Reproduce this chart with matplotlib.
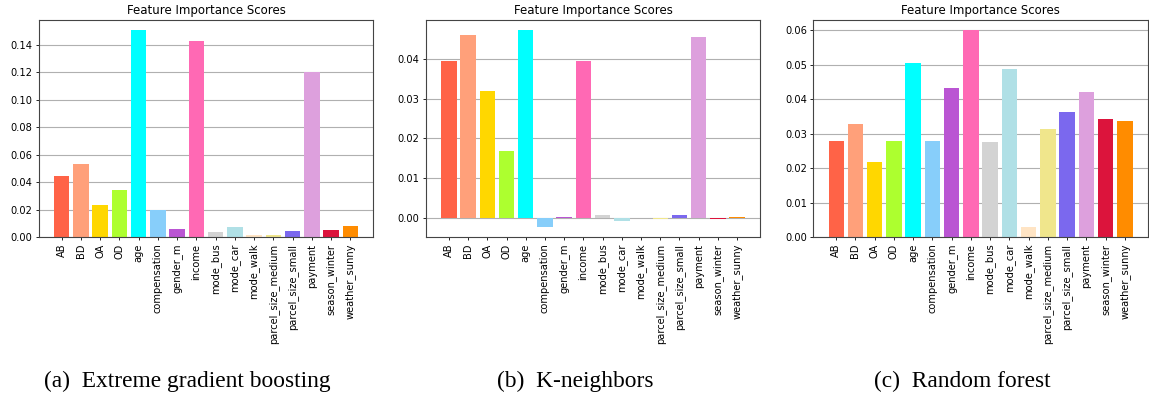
import matplotlib
matplotlib.use("Agg")
import matplotlib.pyplot as plt

features = ["AB", "BD", "OA", "OD", "age", "compensation", "gender_m", "income",
            "mode_bus", "mode_car", "mode_walk", "parcel_size_medium",
            "parcel_size_small", "payment", "season_winter", "weather_sunny"]

bar_colors = ["tomato", "lightsalmon", "gold", "greenyellow", "cyan",
              "lightskyblue", "mediumorchid", "hotpink", "lightgray",
              "powderblue", "bisque", "khaki", "mediumslateblue", "plum",
              "crimson", "darkorange"]

xgb_scores = [0.0445, 0.0532, 0.0235, 0.0343, 0.1504, 0.0201, 0.0060, 0.1424,
              0.0037, 0.0075, 0.0014, 0.0014, 0.0045, 0.1199, 0.0052, 0.0080]

knn_scores = [0.0393, 0.0460, 0.0320, 0.0168, 0.0472, -0.0023, 0.0004, 0.0395,
              0.0007, -0.0007, 0.0001, -0.0001, 0.0009, 0.0455, -0.0002, 0.0004]

rf_scores = [0.0278, 0.0328, 0.0217, 0.0278, 0.0504, 0.0278, 0.0432, 0.0600,
             0.0275, 0.0487, 0.0029, 0.0313, 0.0362, 0.0420, 0.0343, 0.0336]

captions = ["(a)  Extreme gradient boosting", "(b)  K-neighbors", "(c)  Random forest"]
panel_title = "Feature Importance Scores"

W, H = 1149, 397
fig = plt.figure(figsize=(W / 100, H / 100), dpi=100)

# axes boxes in pixels: (left, right), shared top/bottom
boxes = [(38.7, 373.3), (426.0, 760.0), (813.3, 1147.7)]
top_px, bottom_px = 20.0, 237.3
caption_x = [187.5, 575.0, 962.0]
caption_y = 381.0

for (l, r), scores, cap, cx in zip(boxes, [xgb_scores, knn_scores, rf_scores],
                                   captions, caption_x):
    ax = fig.add_axes([l / W, 1 - bottom_px / H, (r - l) / W, (bottom_px - top_px) / H])
    ax.bar(features, scores, color=bar_colors, width=0.8)
    ax.set_axisbelow(True)
    ax.yaxis.grid(True, color="#b0b0b0", linewidth=0.8)
    ax.set_title(panel_title, fontsize=8.5, pad=4)
    ax.tick_params(axis="x", labelrotation=90, labelsize=7.1, length=2.5, width=0.6, pad=2)
    ax.tick_params(axis="y", labelsize=7.1, length=2.5, width=0.6, pad=2)
    for s in ax.spines.values():
        s.set_color("#444444")
        s.set_linewidth(0.8)
    fig.text(cx / W, 1 - caption_y / H, cap, ha="center", va="center",
             fontsize=16.8, family="Liberation Serif")

fig.savefig("out.png", dpi=100)
